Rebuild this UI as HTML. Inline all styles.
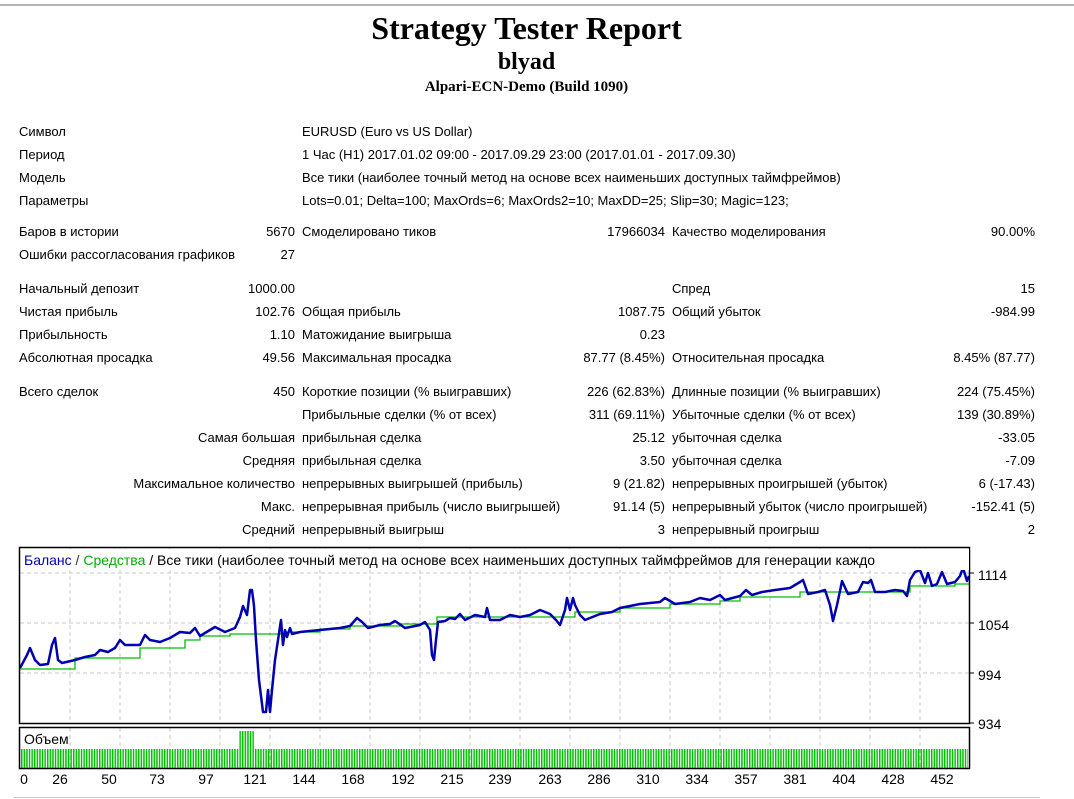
<!DOCTYPE html>
<html><head><meta charset="utf-8">
<style>
body{margin:0;width:1074px;height:799px;background:#fff;position:relative;overflow:hidden;font-family:"Liberation Sans","DejaVu Sans",sans-serif;font-size:13px;color:#000}
.t{position:absolute;white-space:nowrap;line-height:16px}
.r{text-align:right}
.h{position:absolute;left:0;width:1053px;text-align:center;font-family:"Liberation Serif",serif;font-weight:bold;white-space:nowrap}
</style></head><body>
<div style="position:absolute;left:0;top:4px;width:1074px;height:2px;background:#b4b4b4"></div>
<div class="h" style="top:9px;font-size:32px;line-height:38px">Strategy Tester Report</div>
<div class="h" style="top:48px;font-size:24px;line-height:28px">blyad</div>
<div class="h" style="top:78px;font-size:15px;line-height:18px">Alpari-ECN-Demo (Build 1090)</div>

<div class="t" style="left:19px;top:124px">Символ</div><div class="t" style="left:302px;top:124px">EURUSD (Euro vs US Dollar)</div>
<div class="t" style="left:19px;top:147px">Период</div><div class="t" style="left:302px;top:147px">1 Час (H1) 2017.01.02 09:00 - 2017.09.29 23:00 (2017.01.01 - 2017.09.30)</div>
<div class="t" style="left:19px;top:170px">Модель</div><div class="t" style="left:302px;top:170px">Все тики (наиболее точный метод на основе всех наименьших доступных таймфреймов)</div>
<div class="t" style="left:19px;top:193px">Параметры</div><div class="t" style="left:302px;top:193px">Lots=0.01; Delta=100; MaxOrds=6; MaxOrds2=10; MaxDD=25; Slip=30; Magic=123;</div>

<div class="t" style="left:19px;top:224px">Баров в истории</div><div class="t r" style="right:779px;top:224px">5670</div>
<div class="t" style="left:302px;top:224px">Смоделировано тиков</div><div class="t r" style="right:409px;top:224px">17966034</div>
<div class="t" style="left:672px;top:224px">Качество моделирования</div><div class="t r" style="right:39px;top:224px">90.00%</div>
<div class="t" style="left:19px;top:247px">Ошибки рассогласования графиков</div><div class="t r" style="right:779px;top:247px">27</div>

<div class="t" style="left:19px;top:281px">Начальный депозит</div><div class="t r" style="right:779px;top:281px">1000.00</div>
<div class="t" style="left:672px;top:281px">Спред</div><div class="t r" style="right:39px;top:281px">15</div>
<div class="t" style="left:19px;top:304px">Чистая прибыль</div><div class="t r" style="right:779px;top:304px">102.76</div>
<div class="t" style="left:302px;top:304px">Общая прибыль</div><div class="t r" style="right:409px;top:304px">1087.75</div>
<div class="t" style="left:672px;top:304px">Общий убыток</div><div class="t r" style="right:39px;top:304px">-984.99</div>
<div class="t" style="left:19px;top:327px">Прибыльность</div><div class="t r" style="right:779px;top:327px">1.10</div>
<div class="t" style="left:302px;top:327px">Матожидание выигрыша</div><div class="t r" style="right:409px;top:327px">0.23</div>
<div class="t" style="left:19px;top:350px">Абсолютная просадка</div><div class="t r" style="right:779px;top:350px">49.56</div>
<div class="t" style="left:302px;top:350px">Максимальная просадка</div><div class="t r" style="right:409px;top:350px">87.77 (8.45%)</div>
<div class="t" style="left:672px;top:350px">Относительная просадка</div><div class="t r" style="right:39px;top:350px">8.45% (87.77)</div>

<div class="t" style="left:19px;top:384px">Всего сделок</div><div class="t r" style="right:779px;top:384px">450</div>
<div class="t" style="left:302px;top:384px">Короткие позиции (% выигравших)</div><div class="t r" style="right:409px;top:384px">226 (62.83%)</div>
<div class="t" style="left:672px;top:384px">Длинные позиции (% выигравших)</div><div class="t r" style="right:39px;top:384px">224 (75.45%)</div>
<div class="t" style="left:302px;top:407px">Прибыльные сделки (% от всех)</div><div class="t r" style="right:409px;top:407px">311 (69.11%)</div>
<div class="t" style="left:672px;top:407px">Убыточные сделки (% от всех)</div><div class="t r" style="right:39px;top:407px">139 (30.89%)</div>
<div class="t r" style="right:779px;top:430px">Самая большая</div>
<div class="t" style="left:302px;top:430px">прибыльная сделка</div><div class="t r" style="right:409px;top:430px">25.12</div>
<div class="t" style="left:672px;top:430px">убыточная сделка</div><div class="t r" style="right:39px;top:430px">-33.05</div>
<div class="t r" style="right:779px;top:453px">Средняя</div>
<div class="t" style="left:302px;top:453px">прибыльная сделка</div><div class="t r" style="right:409px;top:453px">3.50</div>
<div class="t" style="left:672px;top:453px">убыточная сделка</div><div class="t r" style="right:39px;top:453px">-7.09</div>
<div class="t r" style="right:779px;top:476px">Максимальное количество</div>
<div class="t" style="left:302px;top:476px">непрерывных выигрышей (прибыль)</div><div class="t r" style="right:409px;top:476px">9 (21.82)</div>
<div class="t" style="left:672px;top:476px">непрерывных проигрышей (убыток)</div><div class="t r" style="right:39px;top:476px">6 (-17.43)</div>
<div class="t r" style="right:779px;top:499px">Макс.</div>
<div class="t" style="left:302px;top:499px">непрерывная прибыль (число выигрышей)</div><div class="t r" style="right:409px;top:499px">91.14 (5)</div>
<div class="t" style="left:672px;top:499px">непрерывный убыток (число проигрышей)</div><div class="t r" style="right:39px;top:499px">-152.41 (5)</div>
<div class="t r" style="right:779px;top:522px">Средний</div>
<div class="t" style="left:302px;top:522px">непрерывный выигрыш</div><div class="t r" style="right:409px;top:522px">3</div>
<div class="t" style="left:672px;top:522px">непрерывный проигрыш</div><div class="t r" style="right:39px;top:522px">2</div>

<svg style="position:absolute;left:0;top:0" width="1074" height="799" xmlns="http://www.w3.org/2000/svg">
<defs>
<pattern id="vb" x="21" y="0" width="2.6" height="10" patternUnits="userSpaceOnUse"><rect x="0" y="0" width="1.5" height="10" fill="#00c000"/></pattern>
<clipPath id="cp"><rect x="20" y="548" width="950" height="175"/></clipPath>
</defs>
<g stroke="#c8c8c8" stroke-dasharray="4,3" stroke-width="1">
<line x1="20" y1="573" x2="970" y2="573"/><line x1="20" y1="623" x2="970" y2="623"/><line x1="20" y1="673" x2="970" y2="673"/>
<path d="M70 548V723M120 548V723M170 548V723M220 548V723M270 548V723M320 548V723M370 548V723M420 548V723M470 548V723M520 548V723M570 548V723M620 548V723M670 548V723M720 548V723M770 548V723M820 548V723M870 548V723M920 548V723"/>
<path d="M70 728V768M120 728V768M170 728V768M220 728V768M270 728V768M320 728V768M370 728V768M420 728V768M470 728V768M520 728V768M570 728V768M620 728V768M670 728V768M720 728V768M770 728V768M820 728V768M870 728V768M920 728V768"/>
</g>
<rect x="21" y="749" width="947" height="19" fill="url(#vb)"/>
<rect x="239" y="731" width="16" height="18" fill="url(#vb)"/>
<g clip-path="url(#cp)">
<polyline fill="none" stroke="#00c000" stroke-width="1.3" points="20,669 75,669 75,658 140,658 140,648 185,648 185,640 200,640 200,636 230,636 230,634 285,634 285,632 320,632 320,629 350,629 350,626 400,626 400,624 437,624 437,617 575,617 575,612 620,612 620,608 670,608 670,604 720,604 720,601 740,601 740,597 800,597 800,592 910,592 910,586 955,586 955,584 969,584"/>
<polyline fill="none" stroke="#0000b0" stroke-width="2.5" stroke-linejoin="round" points="20,668 27,655 30,648 35,660 40,665 48,664 52,645 55,638 58,660 62,663 75,660 85,657 95,655 100,650 108,652 115,648 120,640 125,645 140,645 145,635 150,640 160,642 170,638 180,632 190,633 195,628 200,636 210,630 215,627 225,632 235,628 240,617 243,606 247,615 250,590 252,590 254,606 256,640 259,680 263,712 266,712 268,690 270,712 272,690 275,660 278,640 281,620 283,645 285,630 287,637 290,628 292,634 300,632 320,630 340,628 350,626 357,618 362,622 368,628 380,625 390,624 395,621 405,628 420,625 425,622 430,630 432,655 434,660 436,640 438,622 445,621 450,618 455,619 460,614 465,620 475,615 485,617 487,608 490,620 500,620 510,615 520,617 530,615 540,610 550,614 556,620 560,625 565,610 567,598 570,610 573,598 575,605 580,615 585,620 590,618 600,614 612,612 620,608 640,604 660,602 665,598 675,604 690,602 700,598 710,600 720,595 725,600 740,596 746,590 752,595 762,592 775,590 790,588 800,582 803,580 808,594 818,592 825,590 830,605 833,621 837,605 840,591 842,581 848,594 858,592 863,582 868,583 871,580 875,592 885,592 895,590 903,591 907,596 910,580 915,572 920,570 925,583 928,573 932,586 937,584 942,572 947,584 955,582 960,576 963,568 967,581 969,576"/>
</g>
<rect x="19.5" y="547.5" width="950" height="176" fill="none" stroke="#000" stroke-width="1.5"/>
<rect x="19.5" y="727.5" width="950" height="41" fill="none" stroke="#000" stroke-width="1.5"/>
<g stroke="#000"><line x1="970" y1="573" x2="974" y2="573"/><line x1="970" y1="623" x2="974" y2="623"/><line x1="970" y1="673" x2="974" y2="673"/><line x1="970" y1="723" x2="974" y2="723"/></g>
<rect x="21" y="549" width="948" height="21" fill="#fff"/>
<text x="24" y="565" font-family="Liberation Sans, DejaVu Sans, sans-serif" font-size="14"><tspan fill="#0000b0">Баланс</tspan><tspan fill="#333"> / </tspan><tspan fill="#00b000">Средства</tspan><tspan fill="#000"> / Все тики (наиболее точный метод на основе всех наименьших доступных таймфреймов для генерации каждо</tspan></text>
<rect x="966" y="549" width="3" height="21" fill="#fff"/>
<text x="24" y="744" font-family="Liberation Sans, DejaVu Sans, sans-serif" font-size="14" fill="#000">Объем</text>
<g font-family="Liberation Sans, DejaVu Sans, sans-serif" font-size="14" fill="#000">
<text x="978" y="580">1114</text><text x="978" y="630">1054</text><text x="978" y="680">994</text><text x="978" y="729">934</text>
</g>
<g font-family="Liberation Sans, DejaVu Sans, sans-serif" font-size="14" fill="#000" text-anchor="middle">
<text x="24" y="784">0</text><text x="60" y="784">26</text><text x="109" y="784">50</text><text x="157" y="784">73</text><text x="206" y="784">97</text><text x="255" y="784">121</text><text x="304" y="784">144</text><text x="353" y="784">168</text><text x="403" y="784">192</text><text x="452" y="784">215</text><text x="500" y="784">239</text><text x="550" y="784">263</text><text x="599" y="784">286</text><text x="648" y="784">310</text><text x="697" y="784">334</text><text x="746" y="784">357</text><text x="795" y="784">381</text><text x="844" y="784">404</text><text x="893" y="784">428</text><text x="942" y="784">452</text>
</g>
<line x1="14" y1="797.5" x2="1040" y2="797.5" stroke="#c8c8c8" stroke-width="1"/>
</svg>
</body></html>
